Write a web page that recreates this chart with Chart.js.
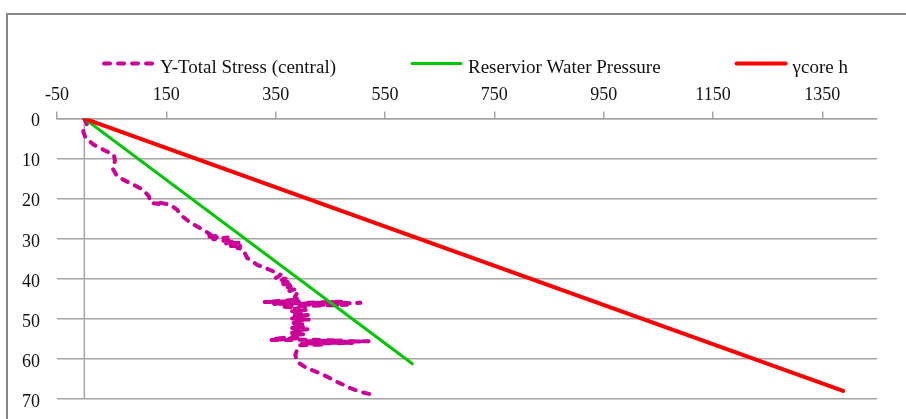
<!DOCTYPE html>
<html>
<head>
<meta charset="utf-8">
<script src="https://cdn.jsdelivr.net/npm/chart.js@4/dist/chart.umd.min.js"></script>
<style>
  html, body { margin: 0; padding: 0; background: #ffffff; }
  #wrap { position: relative; width: 906px; height: 419px; overflow: hidden; }
  #frame { position: absolute; left: 6px; top: 13px; width: 960px; height: 460px;
           border-left: 2px solid #868686; border-top: 2px solid #868686; }
  canvas { position: absolute; left: 0; top: 0; }
</style>
</head>
<body>
<div id="wrap">
  <div id="frame"></div>
  <canvas id="c" width="906" height="419"></canvas>
</div>
<script>
// ---- Data ----
const seriesLabels = ['Y-Total Stress (central)', 'Reservior Water Pressure', '\u03B3core h'];

const xTickValues = [-50, 150, 350, 550, 750, 950, 1150, 1350];
const yTickValues = [0, 10, 20, 30, 40, 50, 60, 70];

// Y-Total Stress (central): stress value vs depth
const stressValue = [
  0, 5, -2, 2, 17, 35, 54, 56, 54, 51, 60, 72, 90, 108, 118, 121, 136, 130, 157, 170,
  176, 194, 218, 231, 222, 248, 236, 262, 250, 275, 258, 283, 268, 288, 280, 290,
  298, 316, 340, 359, 350, 368, 355, 372, 360, 383, 372, 388, 375, 389, 385,
  392, 330, 395, 345, 398, 470, 400, 505, 405, 480, 395, 360, 392,
  385, 405, 380, 400, 378, 410, 384, 398, 380, 412, 386, 396, 378, 405, 383, 400, 380, 408, 384, 395, 380, 402, 382,
  390, 345, 395, 340, 410, 470, 400, 520, 415, 490, 398, 440, 392,
  389, 386, 389, 407, 432, 462, 487, 505, 529
];
const stressDepth = [
  0, 1.5, 3.2, 4.8, 6.5, 7.8, 9, 10.5, 11.5, 12.3, 14.4, 15.3, 16.5, 17.8, 19.4, 21, 21.3, 20.8, 21.5, 22.8,
  24, 26, 27.8, 29, 29.6, 29.2, 30.1, 29.7, 30.5, 30.6, 31.2, 31.0, 31.8, 31.6, 32.3, 32.6,
  34.8, 36.5, 37.8, 39, 39.8, 40.0, 40.6, 40.8, 41.3, 41.5, 42.1, 42.5, 43.0, 43.6, 44.5,
  45.2, 45.8, 45.6, 46.3, 46, 45.7, 46.2, 46, 46.4, 46.5, 46.8, 46.9, 47.3,
  47.5, 47.8, 48.1, 48.4, 48.7, 49.0, 49.3, 49.6, 49.9, 50.2, 50.5, 50.8, 51.1, 51.4, 51.7, 52.0, 52.3, 52.6, 52.9, 53.2, 53.5, 53.8, 54.1,
  54.4, 55, 54.8, 55.3, 55.2, 55.4, 55.6, 55.6, 55.9, 56, 56.2, 56.4, 56.6,
  57.8, 59, 60.7, 62.3, 63.6, 65.7, 67.3, 68.2, 69
];

// Reservior Water Pressure: straight line
const waterValue = [0, 600];
const waterDepth = [0, 61.2];

// gamma_core * h: straight line
const coreValue = [0, 1388];
const coreDepth = [0, 68];

function pairs(xs, ys) { return xs.map((v, i) => ({ x: v, y: ys[i] })); }

const FONT = '"Liberation Serif", "Times New Roman", serif';

const zeroLinePlugin = {
  id: 'zeroLine',
  beforeDatasetsDraw(chart) {
    const { ctx, chartArea, scales } = chart;
    const px = scales.x.getPixelForValue(0);
    ctx.save();
    ctx.strokeStyle = '#a6a6a6';
    ctx.lineWidth = 1.5;
    ctx.beginPath();
    ctx.moveTo(px, chartArea.top);
    ctx.lineTo(px, chartArea.bottom);
    ctx.stroke();
    ctx.restore();
  }
};

const legendPlugin = {
  id: 'excelLegend',
  afterDraw(chart) {
    const ctx = chart.ctx;
    ctx.save();
    ctx.font = '19px ' + FONT;
    const lineLen = 53, textGap = 5, itemGap = 74;
    const items = chart.data.datasets.map(ds => ({ ds, w: lineLen + textGap + ctx.measureText(ds.label).width }));
    const total = items.reduce((s, it) => s + it.w, 0) + itemGap * (items.length - 1);
    let x = 475 - total / 2;
    const lineY = 63.5, textY = 73;
    items.forEach(it => {
      ctx.strokeStyle = it.ds.borderColor;
      ctx.lineWidth = it.ds.borderWidth;
      ctx.lineCap = it.ds.borderCapStyle || 'butt';
      ctx.setLineDash(it.ds.borderDash || []);
      ctx.beginPath();
      ctx.moveTo(x + 2, lineY);
      ctx.lineTo(x + lineLen - 2, lineY);
      ctx.stroke();
      ctx.setLineDash([]);
      ctx.fillStyle = '#111111';
      ctx.textBaseline = 'alphabetic';
      ctx.textAlign = 'left';
      ctx.fillText(it.ds.label, x + lineLen + textGap, textY);
      x += it.w + itemGap;
    });
    ctx.restore();
  }
};

new Chart(document.getElementById('c'), {
  type: 'scatter',
  data: {
    datasets: [
      {
        label: seriesLabels[0],
        data: pairs(stressValue, stressDepth),
        showLine: true,
        borderColor: '#CC0099',
        backgroundColor: '#CC0099',
        borderWidth: 4,
        borderDash: [6, 8],
        borderCapStyle: 'round',
        borderJoinStyle: 'round',
        pointRadius: 0,
        tension: 0,
        order: 3
      },
      {
        label: seriesLabels[1],
        data: pairs(waterValue, waterDepth),
        showLine: true,
        borderColor: '#00C800',
        backgroundColor: '#00C800',
        borderWidth: 3,
        borderCapStyle: 'round',
        pointRadius: 0,
        order: 2
      },
      {
        label: seriesLabels[2],
        data: pairs(coreValue, coreDepth),
        showLine: true,
        borderColor: '#FF0000',
        backgroundColor: '#FF0000',
        borderWidth: 4,
        borderCapStyle: 'round',
        pointRadius: 0,
        order: 1
      }
    ]
  },
  options: {
    responsive: false,
    animation: false,
    devicePixelRatio: 1,
    layout: { padding: { left: 5, right: 29, top: 78, bottom: 20 } },
    plugins: {
      legend: { display: false },
      tooltip: { enabled: false }
    },
    scales: {
      x: {
        type: 'linear',
        position: 'top',
        min: -50,
        max: 1450,
        afterBuildTicks(axis) { axis.ticks = xTickValues.map(v => ({ value: v })); },
        ticks: { color: '#111111', font: { family: FONT, size: 18 }, padding: 6, maxRotation: 0, autoSkip: false,
                 callback: v => String(v) },
        grid: { drawOnChartArea: false, drawTicks: true, tickLength: 7, color: '#a6a6a6', lineWidth: 1.5 },
        border: { display: true, color: '#a6a6a6', width: 1.5 }
      },
      y: {
        type: 'linear',
        reverse: true,
        min: 0,
        max: 70,
        afterBuildTicks(axis) { axis.ticks = yTickValues.map(v => ({ value: v })); },
        afterFit(axis) { axis.paddingTop = 12; axis.paddingBottom = 12; },
        ticks: { color: '#111111', font: { family: FONT, size: 18 }, padding: 17, autoSkip: false, labelOffset: 3,
                 callback: v => String(v) },
        grid: { drawTicks: false, color: '#a6a6a6', lineWidth: 1.5 },
        border: { display: false }
      }
    }
  },
  plugins: [zeroLinePlugin, legendPlugin]
});
</script>
</body>
</html>
